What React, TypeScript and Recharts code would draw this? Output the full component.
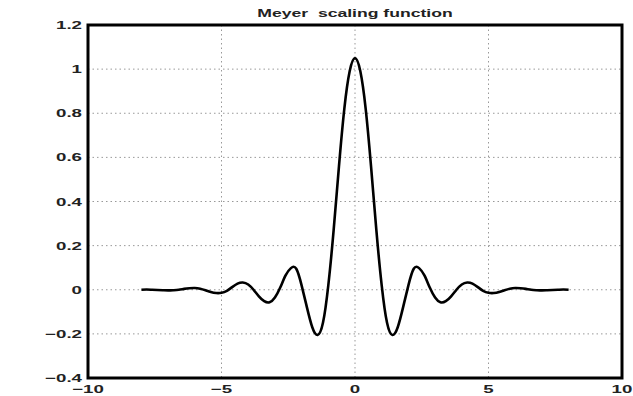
import { CartesianGrid, Line, LineChart, XAxis, YAxis } from 'recharts'

const XS = [
  -8, -7.8, -7.6, -7.4, -7.2, -7, -6.8, -6.6, -6.4, -6.2, -6, -5.8, -5.6, -5.4, -5.2, -5, -4.8, -4.6, -4.4, -4.2,
  -4, -3.8, -3.6, -3.4, -3.2, -3, -2.8, -2.6, -2.4, -2.2, -2, -1.8, -1.6, -1.4, -1.2, -1, -0.8, -0.6, -0.4, -0.2,
  0, 0.2, 0.4, 0.6, 0.8, 1, 1.2, 1.4, 1.6, 1.8, 2, 2.2, 2.4, 2.6, 2.8, 3, 3.2, 3.4, 3.6, 3.8, 4, 4.2, 4.4, 4.6,
  4.8, 5, 5.2, 5.4, 5.6, 5.8, 6, 6.2, 6.4, 6.6, 6.8, 7, 7.2, 7.4, 7.6, 7.8, 8,
]

const PHI = [
  0, 0.001, 0, -0.001, -0.002, -0.003, -0.002, 0, 0.004, 0.007, 0.008, 0.005, -0.002, -0.01, -0.015, -0.014,
  -0.005, 0.012, 0.028, 0.033, 0.024, 0, -0.03, -0.052, -0.057, -0.035, 0.01, 0.065, 0.098, 0.095, 0.02, -0.08,
  -0.17, -0.205, -0.15, 0.02, 0.27, 0.56, 0.82, 0.99, 1.05, 0.99, 0.82, 0.56, 0.27, 0.02, -0.15, -0.205, -0.17,
  -0.08, 0.02, 0.095, 0.098, 0.065, 0.01, -0.035, -0.057, -0.052, -0.03, 0, 0.024, 0.033, 0.028, 0.012, -0.005,
  -0.014, -0.015, -0.01, -0.002, 0.005, 0.008, 0.007, 0.004, 0, -0.002, -0.003, -0.002, -0.001, 0, 0.001, 0,
]

const X_TICKS = [-10, -5, 0, 5, 10]
const Y_TICKS = [-0.4, -0.2, 0, 0.2, 0.4, 0.6, 0.8, 1, 1.2]

const data = XS.map((x, i) => ({ x, phi: PHI[i] }))

const W = 633
const H = 396
const TOP = 25
const RIGHT = 11
const Y_W = 88
const X_H = 18

const FONT = '"Liberation Sans", Arial, Helvetica, sans-serif'
const STRETCH = 1.7

function label(v: number) {
  return String(v).replace('-', '\u2212')
}

function XTick({ x, y, payload }: any) {
  return (
    <text
      transform={`translate(${x},${y + 13}) scale(${STRETCH},1)`}
      textAnchor="middle"
      fontFamily={FONT}
      fontSize={11}
      fontWeight={700}
      fill="#222"
    >
      {label(payload.value)}
    </text>
  )
}

function YTick({ x, y, payload }: any) {
  return (
    <text
      transform={`translate(${x},${y + 4}) scale(${STRETCH},1)`}
      textAnchor="end"
      fontFamily={FONT}
      fontSize={11}
      fontWeight={700}
      fill="#222"
    >
      {label(payload.value)}
    </text>
  )
}

export default function App() {
  return (
    <div style={{ position: 'absolute', left: 0, top: 0, width: W, height: H, overflow: 'hidden' }}>
      <LineChart width={W} height={H} data={data} margin={{ top: TOP, right: RIGHT, bottom: 0, left: 0 }}>
        <CartesianGrid stroke="#999" strokeDasharray="1.5 3" />
        <XAxis
          dataKey="x"
          type="number"
          domain={[-10, 10]}
          ticks={X_TICKS}
          height={X_H}
          axisLine={false}
          tickLine={false}
          tickSize={0}
          tick={<XTick />}
        />
        <YAxis
          type="number"
          domain={[-0.4, 1.2]}
          ticks={Y_TICKS}
          width={Y_W}
          axisLine={false}
          tickLine={false}
          tickSize={0}
          tickMargin={6}
          tick={<YTick />}
        />
        <Line
          dataKey="phi"
          type="natural"
          stroke="#000"
          strokeWidth={2.6}
          dot={false}
          isAnimationActive={false}
        />
      </LineChart>
      <svg width={W} height={H} style={{ position: 'absolute', left: 0, top: 0, pointerEvents: 'none' }}>
        <text
          transform={`translate(${Y_W + (W - Y_W - RIGHT) / 2},17) scale(1.6,1)`}
          textAnchor="middle"
          fontFamily={FONT}
          fontSize={11}
          fontWeight={700}
          fill="#222"
        >
          {'Meyer\u00a0 scaling function'}
        </text>
        <rect
          x={Y_W}
          y={TOP}
          width={W - Y_W - RIGHT}
          height={H - TOP - X_H}
          fill="none"
          stroke="#000"
          strokeWidth={3}
        />
      </svg>
    </div>
  )
}
